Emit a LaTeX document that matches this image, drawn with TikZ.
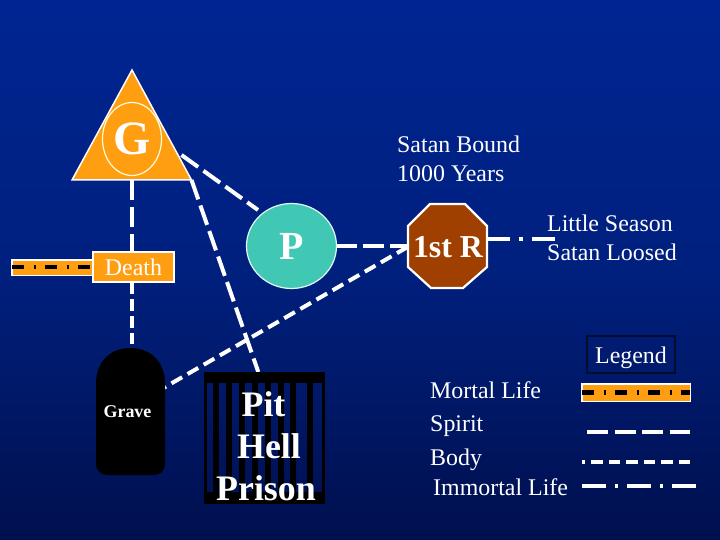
\documentclass[tikz,border=0pt]{standalone}
\usepackage{fontspec}
\setmainfont{Liberation Serif}
\usetikzlibrary{shapes.geometric}
\definecolor{bgb}{HTML}{000F4E}
\definecolor{bgm}{HTML}{00207E}
\definecolor{bgt}{HTML}{002592}
\pgfdeclareverticalshading{bgshade}{100bp}{
  color(0bp)=(bgb); color(25bp)=(bgb); color(50bp)=(bgm); color(75bp)=(bgt); color(100bp)=(bgt)}
\definecolor{gold}{HTML}{FF9E10}
\definecolor{teal}{HTML}{40C8B4}
\definecolor{rust}{HTML}{A04000}
\definecolor{legendedge}{HTML}{000C30}
\tikzset{
  x=1bp,y=-1bp,
  txt/.style={text=white,font=\fontsize{24}{29}\selectfont,inner sep=0pt,align=left,anchor=base west},
  spirit/.style={white,line width=4bp,dash pattern=on 20.5bp off 6.5bp},
  body/.style={white,line width=4bp,dash pattern=on 12.3bp off 6.3bp,dash phase=7.3bp},
  immortal/.style={white,line width=4bp,dash pattern=on 24bp off 9bp on 3bp off 9bp},
  mortalbar/.style={black,line width=4.5bp,dash pattern=on 11.5bp off 10bp on 2.5bp off 9bp},
  goldbar/.style={fill=gold,draw=white,line width=1.8bp},
  prisonbar/.style={fill=black},
}
\begin{document}
\begin{tikzpicture}
\useasboundingbox (0,0) rectangle (720,540);
\path[shading=bgshade] (0,0) rectangle (720,540);
% named anchors
\coordinate (gL) at (72,180);
\coordinate (gR) at (191.5,180);
\coordinate (gA) at (132,70);
\coordinate (gB) at (132,180);
\coordinate (gS) at (181.5,155);
\coordinate (griz) at (161.7,389);
\coordinate (graveT) at (132,344);
\coordinate (pitT) at (258.3,372);
\coordinate (pE) at (336,246);
\coordinate (rW) at (408,246);
\coordinate (rE) at (487,239.3);
\coordinate (ls) at (555,239.3);
\coordinate (dN) at (132,252);
\coordinate (dS) at (132,282);
\coordinate (pNW) at (258,210);
\coordinate (rSW) at (408,246.8);
% connectors
\draw[spirit] (gB) -- (dN);
\draw[body,dash pattern=on 12bp off 5bp,dash phase=0bp] (dS) -- (graveT);
\draw[spirit] (gS) -- (pNW);
\draw[spirit] (gR) -- (pitT);
\draw[body] (griz) -- (rSW);
\draw[spirit] (pE) -- (rW);
\draw[immortal,dash pattern=on 23bp off 9bp on 3.5bp off 9.5bp on 24bp off 0bp] (rE) -- (ls);
% G triangle
\draw[fill=gold,draw=white,line width=1.5bp] (gA) -- (gR) -- (gL) -- cycle;
\node[ellipse,draw=white!85!yellow,line width=1.2bp,minimum width=59bp,minimum height=73bp,inner sep=0pt,text=white,font=\bfseries\fontsize{48}{48}\selectfont] (G) at (132,139) {G};
% Death
\draw[goldbar] (12,260) rectangle (93,275.5);
\draw[mortalbar] (12,266.8) -- (92,266.8);
\node[fill=gold,draw=white,line width=1.8bp,minimum width=81bp,minimum height=29.5bp,inner sep=0pt] (death) at (133.5,267) {};
\node[text=white,inner sep=0pt,anchor=base,font=\fontsize{24}{24}\selectfont] (deathtxt) at (133.5,275.5) {Death};
% P
\node[ellipse,fill=teal,draw=white!85!teal,line width=1.2bp,minimum width=90bp,minimum height=85bp,inner sep=0pt,text=white,font=\bfseries\fontsize{40}{40}\selectfont] (P) at (291.5,246) {P};
% 1st R
\draw[fill=rust,draw=white,line width=2.2bp] (430,204) -- (465,204) -- (487,226) -- (487,267) -- (463,288) -- (431,288) -- (408,267) -- (408,226) -- cycle;
\node[text=white,inner sep=0pt,font=\bfseries\fontsize{32}{32}\selectfont] (R) at (448,247.5) {1st R};
% Grave
\fill[black] (96,384) .. controls (96,360) and (112,348) .. (130,348) .. controls (149,348) and (165,360) .. (165,384) -- (165,464) .. controls (165,471) and (160,475) .. (153,475) -- (108,475) .. controls (101,475) and (96,471) .. (96,464) -- cycle;
\node[text=white,inner sep=0pt,anchor=base,font=\bfseries\fontsize{18}{18}\selectfont] (grave) at (127.5,417) {Grave};
% Prison
\fill[prisonbar] (204,372) rectangle (325,383);
\fill[prisonbar] (204,492) rectangle (325,504);
\fill[prisonbar] (204,372) rectangle (206.7,504);
\fill[prisonbar] (322,372) rectangle (325,504);
\foreach \bx in {213.3,226,239,252,265,277.7,290,307}{
  \fill[prisonbar] (\bx,372) rectangle ++(6,132);
}
\node[text=white,inner sep=0pt,anchor=base,font=\bfseries\fontsize{36}{36}\selectfont] (pit) at (263.5,416) {Pit};
\node[text=white,inner sep=0pt,anchor=base,font=\bfseries\fontsize{36}{36}\selectfont] (hell) at (269,458) {Hell};
\node[text=white,inner sep=0pt,anchor=base,font=\bfseries\fontsize{36}{36}\selectfont] (prison) at (266,500) {Prison};
% texts
\node[txt] (bound1) at (397,152.7) {Satan Bound};
\node[txt] (bound2) at (397,182) {1000 Years};
\node[txt] (ls1) at (547,231.7) {Little Season};
\node[txt] (ls2) at (547,260.7) {Satan Loosed};
% legend
\node[draw=legendedge,line width=2bp,minimum width=88bp,minimum height=37bp,inner sep=0pt] (legend) at (631,354.5) {};
\node[text=white,inner sep=0pt,anchor=base,font=\fontsize{24}{24}\selectfont] (legendtxt) at (631,363) {Legend};
\node[txt] (l1) at (430,398) {Mortal Life};
\node[txt] (l2) at (430,431.7) {Spirit};
\node[txt] (l3) at (430,465) {Body};
\node[txt] (l4) at (433,495) {Immortal Life};
\draw[goldbar] (582,384) rectangle (690.5,401.5);
\draw[mortalbar] (582,392.7) -- (690,392.7);
\draw[spirit,dash pattern=on 21bp off 6.5bp] (587,431.7) -- (690,431.7);
\draw[body,dash pattern=on 11.5bp off 6bp,dash phase=8.5bp] (582,462) -- (690,462);
\draw[immortal] (582,485.7) -- (696,485.7);
\end{tikzpicture}
\end{document}
